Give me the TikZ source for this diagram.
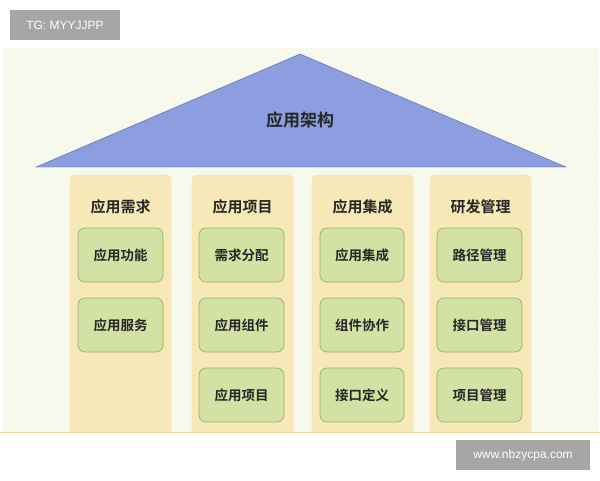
\documentclass[tikz,border=0pt]{standalone}
\usepackage{fontspec}
\newfontfamily\cjk{Noto Sans CJK SC}[BoldFont={Noto Sans CJK SC Bold}]
\setsansfont{Liberation Sans}
\definecolor{panel}{HTML}{F6F9EC}
\definecolor{roof}{HTML}{8C9EE0}
\definecolor{roofline}{HTML}{5565A8}
\definecolor{col}{HTML}{F7E8B8}
\definecolor{colline}{HTML}{EBD9A0}
\definecolor{item}{HTML}{D3E2A4}
\definecolor{itemline}{HTML}{9CB068}
\definecolor{tag}{HTML}{A6A6A6}
\begin{document}
\begin{tikzpicture}[x=1pt,y=-1pt,
  colbox/.style={draw=colline,fill=col,rounded corners=6pt},
  itembox/.style={draw=itemline,fill=item,rounded corners=7pt,line width=0.7pt},
  itemtxt/.style={font=\cjk\bfseries\fontsize{13.5}{15}\selectfont,text=black!85},
  tagbox/.style={fill=tag,text=white,font=\sffamily\fontsize{12}{14}\selectfont,inner sep=0pt}]
\useasboundingbox (0,0) rectangle (600,480);
\fill[white] (0,0) rectangle (600,480);
\draw[panel!85!gray,dashed,fill=panel,rounded corners=4pt] (3,48) rectangle (598,436);
\draw[roofline,fill=roof] (300,54) -- (566,167) -- (36,167) -- cycle;
\node[itemtxt,font=\cjk\bfseries\fontsize{17}{19}\selectfont] (roof) at (300,120) {应用架构};
\foreach \n/\a/\b/\h in {c1/70/171/应用需求, c2/192/293/应用项目, c3/312/413/应用集成, c4/430/531/研发管理}{
  \path[colbox] (\a,175) rectangle (\b,440);
  \node[itemtxt,font=\cjk\bfseries\fontsize{15}{17}\selectfont] (\n) at ({(\a+\b)/2},207) {\h};
}
\fill[white] (0,433) rectangle (600,480);
\draw[colline] (0,432.5) -- (600,432.5);
\foreach \n/\a/\b/\y/\t in {
  i11/78/163/255/应用功能, i12/78/163/325/应用服务,
  i21/199/284/255/需求分配, i22/199/284/325/应用组件, i23/199/284/395/应用项目,
  i31/320/404/255/应用集成, i32/320/404/325/组件协作, i33/320/404/395/接口定义,
  i41/437/522/255/路径管理, i42/437/522/325/接口管理, i43/437/522/395/项目管理}{
  \draw[itembox] (\a,\y-27) rectangle (\b,\y+27);
  \node[itemtxt] (\n) at ({(\a+\b)/2},\y) {\t};
}
\node[tagbox,minimum width=110pt,minimum height=30pt] (tg) at (65,25) {TG: MYYJJPP};
\node[tagbox,minimum width=134pt,minimum height=30pt] (www) at (523,455) {www.nbzycpa.com};
\end{tikzpicture}
\end{document}
